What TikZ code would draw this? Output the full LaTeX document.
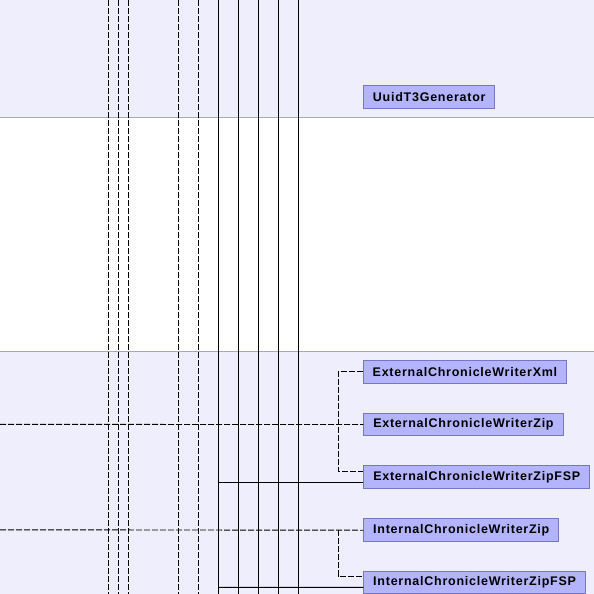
\documentclass[tikz,border=0pt]{standalone}
\usepackage{fontspec}
\newfontfamily\lblfont[LetterSpace=6]{Liberation Sans}
\definecolor{bandbg}{RGB}{238,238,252}
\definecolor{sepline}{RGB}{168,168,188}
\definecolor{boxfill}{RGB}{180,180,252}
\definecolor{boxline}{RGB}{118,118,196}
\tikzset{
  cls/.style={draw=boxline, fill=boxfill, line width=0.9pt, anchor=west,
    minimum height=22.6pt, inner sep=0pt,
    font=\lblfont\bfseries\fontsize{12.5pt}{14pt}\selectfont},
  dep/.style={line width=0.9pt, dash pattern=on 6pt off 2pt},
  rel/.style={line width=0.9pt},
}
\begin{document}
\begin{tikzpicture}[x=1pt,y=-1pt]
\useasboundingbox (0,0) rectangle (594,594);
% bands
\fill[bandbg] (0,0) rectangle (594,117);
\fill[white] (0,117) rectangle (594,351);
\fill[bandbg] (0,351) rectangle (594,594);
\draw[sepline, line width=1pt] (0,117) -- (594,117);
\draw[sepline, line width=1pt] (0,351) -- (594,351);
% vertical lines
\foreach \i/\x in {1/108.3,2/118.3,3/128.3,4/178.3,5/198.3} {
  \coordinate (dt\i) at (\x,0);
  \coordinate (db\i) at (\x,594);
  \draw[dep] (dt\i) -- (db\i);
}
\foreach \i/\x in {1/218.3,2/238.3,3/258.3,4/278.3,5/298.3} {
  \coordinate (st\i) at (\x,0);
  \coordinate (sb\i) at (\x,594);
  \draw[rel] (st\i) -- (sb\i);
}
% nodes
\node[cls, minimum width=131pt] (uuid) at (363.3,96.8) {UuidT3Generator};
\node[cls, minimum width=202.4pt] (extXml) at (363.3,371.7) {ExternalChronicleWriterXml};
\node[cls, minimum width=199.4pt] (extZip) at (363.3,424.5) {ExternalChronicleWriterZip};
\node[cls, minimum width=226pt] (extZipFSP) at (363.3,477) {ExternalChronicleWriterZipFSP};
\node[cls, minimum width=195pt] (intZip) at (363.3,530.2) {InternalChronicleWriterZip};
\node[cls, minimum width=221.7pt] (intZipFSP) at (363.3,582.6) {InternalChronicleWriterZipFSP};
% connectors
\coordinate (l1) at (0,424.4);
\coordinate (l2) at (0,529.8);
\coordinate (s1) at (218.3,482.3);
\coordinate (s2) at (218.3,587.4);
\draw[dep] (l1) -- (extZip.west);
\draw[dep] (l2) -- (intZip.west);
\draw[dep] (extXml.west) -- (338.3,371.7) |- ([yshift=6pt]extZipFSP.west);
\draw[dep] (intZip.west) ++(-25pt,0) |- ([yshift=6.5pt]intZipFSP.west);
\draw[rel] (s1) -- ([yshift=-5.3pt]extZipFSP.west);
\draw[rel] (s2) -- ([yshift=-4.8pt]intZipFSP.west);
\end{tikzpicture}
\end{document}
